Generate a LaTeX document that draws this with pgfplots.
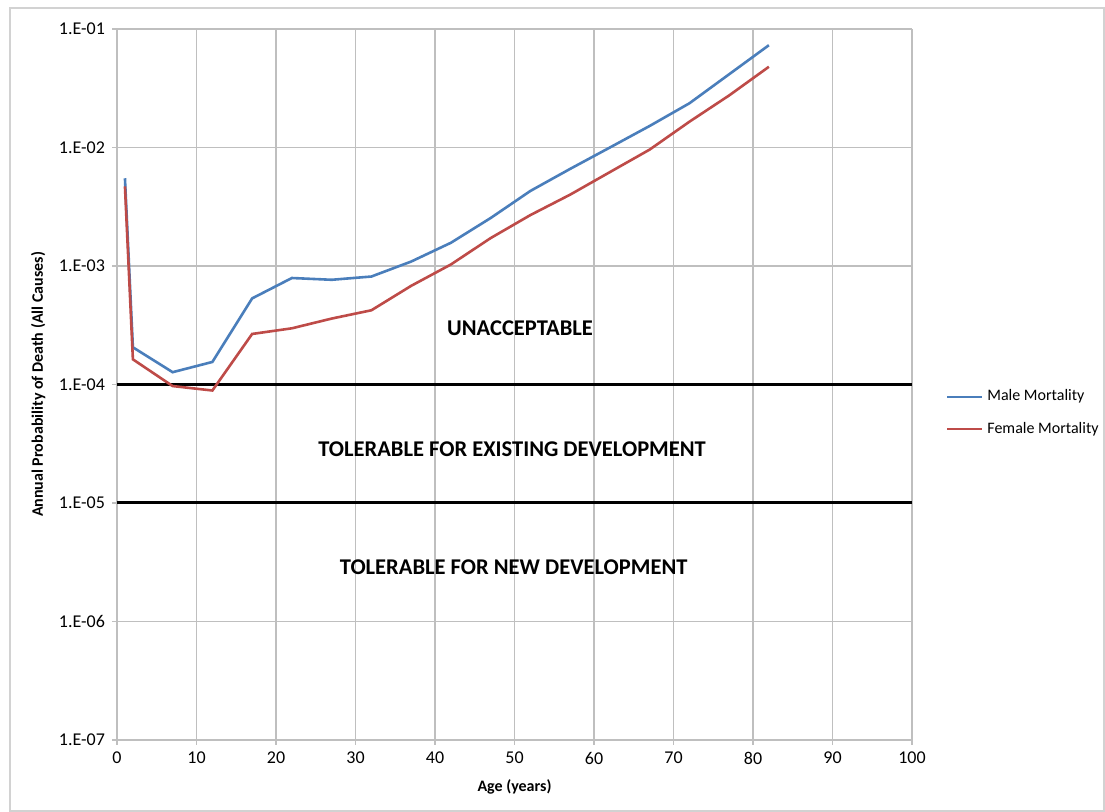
\documentclass[border=0pt]{standalone}
\usepackage{pgfplots}
\pgfplotsset{compat=1.18}
\usepackage{fontspec}
\setmainfont{Carlito}
\definecolor{male}{HTML}{4A7EBB}
\definecolor{female}{HTML}{BE4B48}
\definecolor{gridc}{HTML}{BFBFBF}
\begin{document}
\begin{tikzpicture}[x=1pt,y=1pt]
\useasboundingbox (0,0) rectangle (552.5,406);
\draw[gray!35, line width=0.6pt] (5,0.5) rectangle (552,402);
\begin{axis}[
  at={(58.5pt,36pt)}, anchor=south west,
  scale only axis, width=397.5pt, height=355.5pt,
  ymode=log, log basis y=10,
  xmin=0, xmax=100, ymin=1e-7, ymax=1e-1,
  xtick={0,10,...,100},
  ytick={1e-7,1e-6,1e-5,1e-4,1e-3,1e-2,1e-1},
  yticklabels={1.E-07,1.E-06,1.E-05,1.E-04,1.E-03,1.E-02,1.E-01},
  yminorticks=false,
  axis x line*=bottom, axis y line*=left,
  axis line style={gridc, line width=0.6pt},
  tick style={gridc, line width=0.6pt},
  tick align=outside, major tick length=2.5pt,
  grid=major, major grid style={gridc, line width=0.6pt},
  /pgf/number format/assume math mode=true,
  ticklabel style={font=\fontsize{9}{10.8}\selectfont, text=black},
  xlabel={Age (years)}, ylabel={Annual Probability of Death (All Causes)},
  xlabel style={font=\bfseries\fontsize{8}{9.6}\selectfont, at={(axis description cs:0.5,-0.066)}, anchor=center},
  ylabel style={font=\bfseries\fontsize{8}{9.6}\selectfont, at={(axis description cs:-0.099,0.5)}, anchor=center},
  legend style={at={(1.042,0.46)}, anchor=west, draw=none, fill=none, inner sep=0pt,
    font=\fontsize{8}{9.6}\selectfont, row sep=5pt, cells={anchor=west}},
  legend image code/.code={\draw[#1] (0pt,0pt) -- (17.5pt,0pt);},
  clip=false,
]
\addplot[black, line width=1.5pt, forget plot] coordinates {(0,1e-4) (100,1e-4)};
\addplot[black, line width=1.5pt, forget plot] coordinates {(0,1e-5) (100,1e-5)};
\addplot[male, line width=1.3pt] coordinates {
(1,5.5e-3) (2,2.06e-4) (7,1.27e-4) (12,1.55e-4) (17,5.33e-4) (22,7.92e-4) (27,7.65e-4) (32,8.15e-4) (37,1.09e-3) (42,1.57e-3) (47,2.54e-3) (52,4.3e-3) (57,6.6e-3) (62,1.0e-2) (67,1.52e-2) (72,2.36e-2) (77,4.15e-2) (82,7.3e-2)};
\addlegendentry{Male Mortality}
\addplot[female, line width=1.3pt] coordinates {
(1,4.7e-3) (2,1.63e-4) (7,9.7e-5) (12,8.9e-5) (17,2.67e-4) (22,2.98e-4) (27,3.6e-4) (32,4.23e-4) (37,6.8e-4) (42,1.03e-3) (47,1.72e-3) (52,2.69e-3) (57,4.0e-3) (62,6.2e-3) (67,9.6e-3) (72,1.65e-2) (77,2.75e-2) (82,4.8e-2)};
\addlegendentry{Female Mortality}
\node[font=\bfseries\fontsize{11.25}{13}\selectfont] at (axis cs:50.7,3e-4) {UNACCEPTABLE};
\node[font=\bfseries\fontsize{11.25}{13}\selectfont] at (axis cs:49.7,2.86e-5) {TOLERABLE FOR EXISTING DEVELOPMENT};
\node[font=\bfseries\fontsize{11.25}{13}\selectfont] at (axis cs:49.9,2.88e-6) {TOLERABLE FOR NEW DEVELOPMENT};
\end{axis}
\end{tikzpicture}
\end{document}
